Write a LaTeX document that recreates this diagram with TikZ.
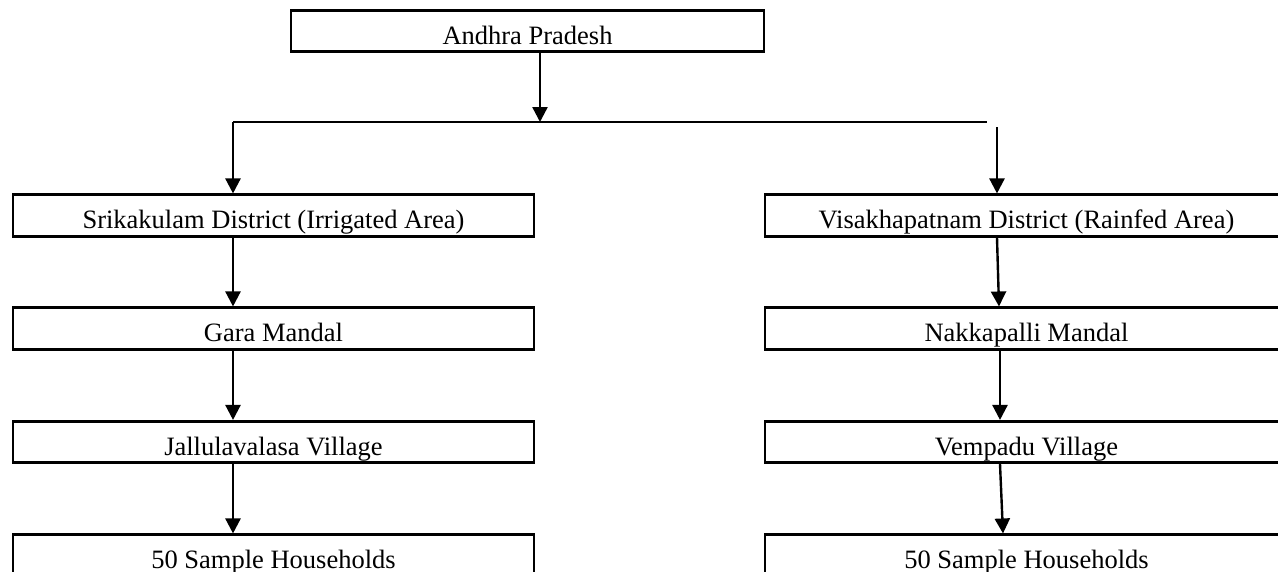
\documentclass[tikz,border=0pt]{standalone}
\usepackage{fontspec}
\setmainfont{Liberation Serif}
\usetikzlibrary{arrows.meta}
\begin{document}
\begin{tikzpicture}[x=1pt,y=-1pt,
  box/.style={draw=black, line width=2.6pt, rectangle, inner ysep=0pt, inner xsep=0pt,
    text height=34pt, text depth=7.5pt, minimum height=0pt,
    font=\fontsize{26.5}{30}\selectfont},
  lbox/.style={box, minimum width=521pt},
  rbox/.style={box, minimum width=523pt},
  conn/.style={line width=2.4pt},
  arr/.style={conn, -{Triangle[length=15pt,width=15pt]}}
]
\useasboundingbox (0,0) rectangle (1278,571);
\node[box, minimum width=473pt] (ap) at (527.5,31) {Andhra Pradesh};
\node[lbox] (srk) at (273.5,215.5) {Srikakulam District (Irrigated Area)};
\node[lbox] (gara) at (273.5,328.5) {Gara Mandal};
\node[lbox] (jal) at (273.5,442) {Jallulavalasa Village};
\node[lbox] (lhh) at (273.5,555.5) {50 Sample Households};
\node[rbox] (vis) at (1026.5,215.5) {Visakhapatnam District (Rainfed Area)};
\node[rbox] (nak) at (1026.5,328.5) {Nakkapalli Mandal};
\node[rbox] (vem) at (1026.5,442) {Vempadu Village};
\node[rbox] (rhh) at (1026.5,555.5) {50 Sample Households};
% junction and columns
\coordinate (j) at (540,122);
\coordinate (hl) at (233,122);
\coordinate (hr) at (987,122);
\coordinate (r0) at (997,127);
\coordinate (c1a) at (997,0);
\coordinate (c1b) at (999,0);
\coordinate (c2) at (1000,0);
\coordinate (c3a) at (1000,0);
\coordinate (c3b) at (1003,0);
\draw[arr] (ap.south -| j) -- (j);
\draw[line width=2pt] (hl) -- (hr);
\draw[arr] (hl) -- (srk.north -| hl);
\draw[arr] (r0) -- (vis.north -| r0);
\draw[arr] (srk.south -| hl) -- (gara.north -| hl);
\draw[arr] (gara.south -| hl) -- (jal.north -| hl);
\draw[arr] (jal.south -| hl) -- (lhh.north -| hl);
\draw[arr] (vis.south -| c1a) -- (nak.north -| c1b);
\draw[arr] (nak.south -| c2) -- (vem.north -| c2);
\draw[arr] (vem.south -| c3a) -- (rhh.north -| c3b);
\end{tikzpicture}
\end{document}
